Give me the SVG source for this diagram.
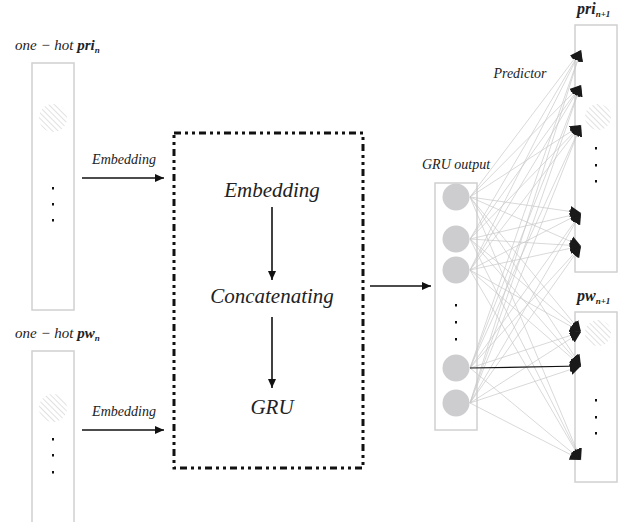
<svg xmlns="http://www.w3.org/2000/svg" width="624" height="522" viewBox="0 0 624 522">
<style>
.box{fill:#fff;stroke:#d0d0d0;stroke-width:1.5}
.t{font-family:"Liberation Serif",serif;font-style:italic;fill:#222}
.big{font-size:21px}
.sm{font-size:14px}
.lab{font-size:15px}
.dot{fill:#111}
.net{stroke:#c8c8c8;stroke-width:0.7;fill:none;marker-end:url(#ah)}
.arr{stroke:#111;stroke-width:1.6;fill:none;marker-end:url(#bh)}
.hc{fill:url(#hatch)}
.cir{fill:#cdcdcf}
</style>
<defs>
<pattern id="hatch" patternUnits="userSpaceOnUse" width="4" height="4" patternTransform="rotate(-45)">
<line x1="0" y1="0" x2="0" y2="4" stroke="#c4c4c4" stroke-width="1"/>
</pattern>
<marker id="ah" markerUnits="userSpaceOnUse" markerWidth="12" markerHeight="12" refX="11" refY="6" orient="auto">
<path d="M0,0.5 L11,6 L0,11.5 z" fill="#1a1a1a"/>
</marker>
<marker id="bh" markerUnits="userSpaceOnUse" markerWidth="10" markerHeight="10" refX="9" refY="5" orient="auto">
<path d="M0,1 L9,5 L0,9 z" fill="#111"/>
</marker>
</defs>

<g id="input-pri">
<text class="t lab" x="15" y="50">one − hot <tspan font-weight="bold">pri</tspan><tspan font-size="9" font-weight="bold" dy="3">n</tspan></text>
<rect class="box" x="32" y="63" width="42" height="247"/>
<circle class="hc" cx="53" cy="118" r="14"/>
<rect class="dot" x="52" y="187" width="2" height="2.5"/>
<rect class="dot" x="52" y="203" width="2" height="2.5"/>
<rect class="dot" x="52" y="219" width="2" height="2.5"/>
</g>

<g id="input-pw">
<text class="t lab" x="15" y="338">one − hot <tspan font-weight="bold">pw</tspan><tspan font-size="9" font-weight="bold" dy="3">n</tspan></text>
<rect class="box" x="32" y="351" width="42" height="175"/>
<circle class="hc" cx="53" cy="408" r="14"/>
<rect class="dot" x="52" y="438" width="2" height="2.5"/>
<rect class="dot" x="52" y="454" width="2" height="2.5"/>
<rect class="dot" x="52" y="471" width="2" height="2.5"/>
</g>

<g id="process">
<rect x="174" y="133" width="189" height="335" fill="none" stroke="#111" stroke-width="3" stroke-dasharray="7 4 3 4 3 4"/>
<text class="t big" x="272" y="197" text-anchor="middle">Embedding</text>
<text class="t big" x="272" y="303" text-anchor="middle">Concatenating</text>
<text class="t big" x="272" y="414" text-anchor="middle">GRU</text>
</g>

<g id="gru-output">
<text class="t sm" x="456" y="169" text-anchor="middle">GRU output</text>
<rect class="box" x="435" y="183" width="42" height="247"/>
<circle class="cir" cx="456" cy="197" r="13.5"/>
<circle class="cir" cx="456" cy="239" r="13.5"/>
<circle class="cir" cx="456" cy="270" r="13.5"/>
<rect class="dot" x="455" y="304" width="2" height="2.5"/>
<rect class="dot" x="455" y="321" width="2" height="2.5"/>
<rect class="dot" x="455" y="338" width="2" height="2.5"/>
<circle class="cir" cx="456" cy="368" r="13.5"/>
<circle class="cir" cx="456" cy="403" r="13.5"/>
</g>

<g id="output-pri">
<text class="t" x="577" y="14" font-size="16" font-weight="bold">pri<tspan font-size="9" dy="3">n+1</tspan></text>
<rect class="box" x="575" y="25" width="42" height="247"/>
<circle class="hc" cx="598" cy="117" r="13"/>
<rect class="dot" x="595" y="147" width="2" height="2.5"/>
<rect class="dot" x="595" y="164" width="2" height="2.5"/>
<rect class="dot" x="595" y="180" width="2" height="2.5"/>
</g>

<g id="output-pw">
<text class="t" x="577" y="301" font-size="16" font-weight="bold">pw<tspan font-size="9" dy="3">n+1</tspan></text>
<rect class="box" x="575" y="312" width="42" height="170"/>
<circle class="hc" cx="598" cy="333" r="13"/>
<rect class="dot" x="595" y="399" width="2" height="2.5"/>
<rect class="dot" x="595" y="416" width="2" height="2.5"/>
<rect class="dot" x="595" y="432" width="2" height="2.5"/>
</g>

<text class="t sm" x="520" y="78" text-anchor="middle">Predictor</text>
<text class="t sm" x="124" y="164" text-anchor="middle">Embedding</text>
<text class="t sm" x="124" y="416" text-anchor="middle">Embedding</text>

<g id="connectors">
<line class="arr" x1="82" y1="178" x2="164" y2="178"/>
<line class="arr" x1="82" y1="430" x2="164" y2="430"/>
<line class="arr" x1="272" y1="207" x2="272" y2="280"/>
<line class="arr" x1="272" y1="317" x2="272" y2="388"/>
<line class="arr" x1="370" y1="286" x2="431" y2="286"/>
<g id="net">
<line class="net" x1="470" y1="197" x2="581" y2="50"/>
<line class="net" x1="470" y1="197" x2="581" y2="85"/>
<line class="net" x1="470" y1="197" x2="581" y2="125"/>
<line class="net" x1="470" y1="197" x2="581" y2="213"/>
<line class="net" x1="470" y1="197" x2="581" y2="246"/>
<line class="net" x1="470" y1="197" x2="581" y2="332"/>
<line class="net" x1="470" y1="197" x2="581" y2="366"/>
<line class="net" x1="470" y1="197" x2="581" y2="460"/>
<line class="net" x1="470" y1="239" x2="581" y2="50"/>
<line class="net" x1="470" y1="239" x2="581" y2="85"/>
<line class="net" x1="470" y1="239" x2="581" y2="125"/>
<line class="net" x1="470" y1="239" x2="581" y2="213"/>
<line class="net" x1="470" y1="239" x2="581" y2="246"/>
<line class="net" x1="470" y1="239" x2="581" y2="332"/>
<line class="net" x1="470" y1="239" x2="581" y2="366"/>
<line class="net" x1="470" y1="239" x2="581" y2="460"/>
<line class="net" x1="470" y1="270" x2="581" y2="50"/>
<line class="net" x1="470" y1="270" x2="581" y2="85"/>
<line class="net" x1="470" y1="270" x2="581" y2="125"/>
<line class="net" x1="470" y1="270" x2="581" y2="213"/>
<line class="net" x1="470" y1="270" x2="581" y2="246"/>
<line class="net" x1="470" y1="270" x2="581" y2="332"/>
<line class="net" x1="470" y1="270" x2="581" y2="366"/>
<line class="net" x1="470" y1="270" x2="581" y2="460"/>
<line class="net" x1="470" y1="368" x2="581" y2="50"/>
<line class="net" x1="470" y1="368" x2="581" y2="85"/>
<line class="net" x1="470" y1="368" x2="581" y2="125"/>
<line class="net" x1="470" y1="368" x2="581" y2="213"/>
<line class="net" x1="470" y1="368" x2="581" y2="246"/>
<line class="net" x1="470" y1="368" x2="581" y2="332"/>
<line class="net" x1="470" y1="368" x2="581" y2="460"/>
<line class="net" x1="470" y1="403" x2="581" y2="50"/>
<line class="net" x1="470" y1="403" x2="581" y2="85"/>
<line class="net" x1="470" y1="403" x2="581" y2="125"/>
<line class="net" x1="470" y1="403" x2="581" y2="213"/>
<line class="net" x1="470" y1="403" x2="581" y2="246"/>
<line class="net" x1="470" y1="403" x2="581" y2="332"/>
<line class="net" x1="470" y1="403" x2="581" y2="366"/>
<line class="net" x1="470" y1="403" x2="581" y2="460"/>
<line x1="470" y1="368" x2="581" y2="366" stroke="#111" stroke-width="1.2" marker-end="url(#ah)"/>
</g>
</g>
</svg>
